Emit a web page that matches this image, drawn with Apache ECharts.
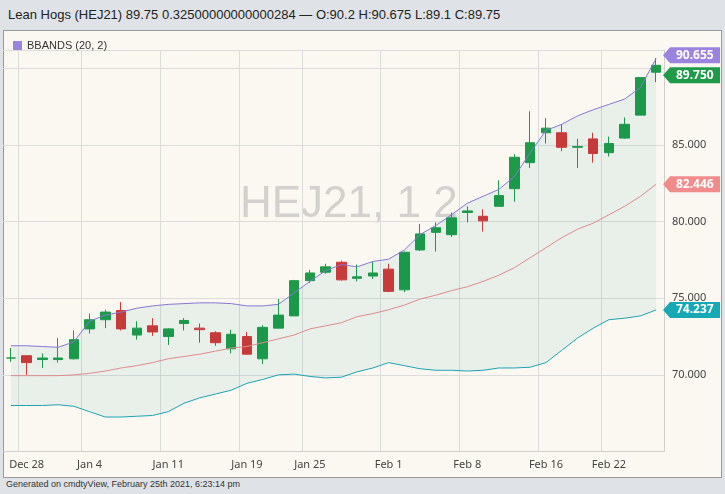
<!DOCTYPE html>
<html>
<head>
<meta charset="utf-8">
<script src="https://cdn.jsdelivr.net/npm/echarts@6/dist/echarts.min.js"></script>
<style>
  body { margin: 0; background: #dfe2e6; font-family: "Liberation Sans", Arial, sans-serif; }
  .title { position: absolute; left: 8px; top: 7px; font-size: 13px; color: #222; }
  .panel { position: absolute; left: 3px; top: 30px; width: 717px; height: 446px; border: 1px solid #9a9a9a; background: #fbf8f2; }
  .foot { position: absolute; left: 6px; top: 479px; font-size: 9px; color: #333; }
  #chart { position: absolute; left: 0; top: 0; width: 725px; height: 494px; }
</style>
</head>
<body>
<div class="title">Lean Hogs (HEJ21) 89.75 0.32500000000000284 — O:90.2 H:90.675 L:89.1 C:89.75</div>
<div class="panel"></div>
<div class="foot">Generated on cmdtyView, February 25th 2021, 6:23:14 pm</div>
<div id="chart"></div>
<script>
// 日期
var dates = ['Dec 24', 'Dec 28', 'Dec 29', 'Dec 30', 'Dec 31',
  'Jan 4', 'Jan 5', 'Jan 6', 'Jan 7', 'Jan 8',
  'Jan 11', 'Jan 12', 'Jan 13', 'Jan 14', 'Jan 15',
  'Jan 19', 'Jan 20', 'Jan 21', 'Jan 22',
  'Jan 25', 'Jan 26', 'Jan 27', 'Jan 28', 'Jan 29',
  'Feb 1', 'Feb 2', 'Feb 3', 'Feb 4', 'Feb 5',
  'Feb 8', 'Feb 9', 'Feb 10', 'Feb 11', 'Feb 12',
  'Feb 16', 'Feb 17', 'Feb 18', 'Feb 19',
  'Feb 22', 'Feb 23', 'Feb 24', 'Feb 25'];
var tickDates = ['Dec 28', 'Jan 4', 'Jan 11', 'Jan 19', 'Jan 25', 'Feb 1', 'Feb 8', 'Feb 16', 'Feb 22'];
// [open, close, low, high]
var ohlc = [
  [71.1, 71.1, 70.85, 71.75], [71.25, 70.8, 70.0, 71.25], [71.0, 71.1, 70.45, 71.4], [71.0, 71.1, 70.8, 72.4], [71.05, 72.3, 71.0, 72.9],
  [73.0, 73.6, 72.7, 74.0], [73.6, 74.1, 73.05, 74.25], [74.2, 73.0, 72.9, 74.75], [72.6, 73.05, 72.3, 73.5], [73.2, 72.8, 72.55, 73.7],
  [72.5, 73.0, 71.95, 73.05], [73.35, 73.55, 72.9, 73.7], [73.05, 72.95, 72.1, 73.35], [72.75, 72.1, 71.9, 72.85], [71.7, 72.65, 71.4, 72.95],
  [72.5, 71.35, 71.35, 72.8], [71.05, 73.1, 70.7, 73.25], [73.05, 73.9, 73.05, 74.95], [73.85, 76.15, 73.85, 76.2],
  [76.15, 76.65, 76.0, 76.85], [76.7, 77.05, 76.6, 77.25], [77.35, 76.2, 76.15, 77.45], [76.3, 76.4, 76.1, 77.2], [76.45, 76.65, 76.25, 77.4],
  [76.9, 75.45, 75.4, 77.25], [75.55, 78.0, 75.4, 78.05], [78.15, 79.2, 78.1, 79.85], [79.3, 79.6, 78.05, 79.95], [79.15, 80.25, 79.0, 80.6],
  [80.6, 80.7, 79.95, 81.0], [80.35, 80.05, 79.35, 80.8], [81.0, 81.7, 81.0, 82.7], [82.15, 84.2, 81.3, 84.4], [83.85, 85.15, 83.5, 87.2],
  [85.8, 86.1, 85.1, 86.75], [85.8, 84.85, 84.6, 86.35], [84.85, 84.9, 83.5, 85.4], [85.4, 84.45, 83.85, 85.8],
  [84.5, 85.1, 84.25, 85.55], [85.45, 86.35, 85.4, 86.8], [86.95, 89.4, 86.95, 89.4], [90.2, 89.75, 89.1, 90.675]
];
var upper = [71.9, 71.9, 71.85, 71.8, 72.15, 73.5, 73.9, 74.1, 74.35, 74.5,
  74.6, 74.65, 74.7, 74.7, 74.65, 74.5, 74.5, 74.6, 75.35, 76.1, 76.8, 77.2, 77.05, 77.4,
  77.55, 78.15, 79.15, 79.75, 80.45, 81.2, 81.65, 82.1, 82.95, 84.5, 85.95, 86.35, 86.9, 87.3,
  87.65, 88.0, 88.75, 90.655];
var middle = [69.95, 69.95, 69.95, 69.95, 70.0, 70.1, 70.25, 70.45, 70.6, 70.8,
  71.05, 71.2, 71.35, 71.55, 71.75, 71.85, 72.1, 72.35, 72.6, 73.0, 73.2, 73.4, 73.8, 74.0,
  74.25, 74.55, 74.95, 75.2, 75.5, 75.75, 76.1, 76.5, 77.0, 77.65, 78.3, 78.95, 79.5, 79.9,
  80.45, 81.0, 81.65, 82.446];
var lower = [68.0, 68.0, 68.0, 68.05, 67.95, 67.6, 67.25, 67.25, 67.3, 67.35,
  67.6, 68.15, 68.5, 68.75, 69.0, 69.45, 69.7, 70.0, 70.05, 69.9, 69.8, 69.85, 70.2, 70.45,
  70.8, 70.6, 70.4, 70.3, 70.3, 70.25, 70.3, 70.45, 70.45, 70.5, 70.8, 71.6, 72.4, 73.05,
  73.6, 73.7, 73.85, 74.237];
var lastClose = 89.75;

(function () {
  var myChart = echarts.init(document.getElementById('chart'));
  var bandWidth = upper.map(function (v, i) { return +(v - lower[i]).toFixed(3); });
  var isTick = function (i) { return tickDates.indexOf(dates[i]) >= 0; };
  var green = '#1e9a48';
  // 最后一根按昨收比较显示为绿色
  var candles = ohlc.map(function (d, i) {
    if (i === ohlc.length - 1) {
      return { value: d, itemStyle: { color0: green, borderColor0: green } };
    }
    return d;
  });

  var option = {
    animation: false,
    legend: {
      left: 8, top: 35, itemWidth: 9, itemHeight: 9,
      data: [{ name: 'BBANDS (20, 2)', icon: 'rect', itemStyle: { color: '#9a84e0' } }],
      textStyle: { fontSize: 11, color: '#333', fontFamily: 'Liberation Sans' }
    },
    grid: { left: 3, right: 61, top: 50, bottom: 42.5 },
    xAxis: {
      type: 'category', data: dates,
      axisLine: { lineStyle: { color: '#cfcfcf' } },
      axisTick: { show: false },
      axisLabel: { interval: function (i) { return isTick(i); }, color: '#444', fontSize: 11, margin: 8, fontFamily: 'Noto Sans' },
      splitLine: { show: true, interval: function (i) { return isTick(i); }, lineStyle: { color: '#dcdcdc' } }
    },
    yAxis: {
      type: 'value', position: 'right', min: 65, max: 91.2, interval: 5,
      axisLine: { show: true, lineStyle: { color: '#cfcfcf' } },
      axisTick: { show: false },
      axisLabel: {
        color: '#444', fontSize: 11, fontFamily: 'Noto Sans',
        formatter: function (v) { return (v === 65 || v === 90) ? '' : v.toFixed(3); },
        showMaxLabel: false
      },
      splitLine: { lineStyle: { color: '#dcdcdc' } }
    },
    series: [
      {
        name: 'bandBase', type: 'line', stack: 'bb', data: lower,
        symbol: 'none', lineStyle: { opacity: 0 }, silent: true
      },
      {
        name: 'bandFill', type: 'line', stack: 'bb', data: bandWidth,
        symbol: 'none', lineStyle: { opacity: 0 }, silent: true,
        areaStyle: { color: 'rgba(0,140,130,0.10)' }
      },
      { name: 'BBANDS (20, 2)', type: 'line', data: upper, symbol: 'none', lineStyle: { color: '#8677d6', width: 1 } },
      { name: 'mid', type: 'line', data: middle, symbol: 'none', lineStyle: { color: '#e08a8a', width: 1 } },
      { name: 'low', type: 'line', data: lower, symbol: 'none', lineStyle: { color: '#1aa3b4', width: 1 } },
      {
        name: 'HEJ21', type: 'candlestick', data: candles, barWidth: 10,
        itemStyle: { color: green, color0: '#d63535', borderColor: green, borderColor0: '#d63535' }
      }
    ]
  };
  myChart.setOption(option);

  // 右侧价格标签
  var n = dates.length - 1;
  var badges = [
    [upper[n], '#9a84e0'], [lastClose, green], [middle[n], '#f08c8c'], [lower[n], '#17a8b5']
  ];
  var elems = [{
    type: 'text', left: 240, top: 183, z: -1,
    style: { text: 'HEJ21, 1 2', fontSize: 44, fill: 'rgba(150,150,150,0.4)', fontFamily: 'Liberation Sans' }
  }];
  badges.forEach(function (b) {
    var y = myChart.convertToPixel({ yAxisIndex: 0 }, b[0]);
    if (b[0] === upper[n]) y -= 3;
    if (b[0] === lastClose) y += 3;
    elems.push({
      type: 'polygon', z: 10,
      shape: { points: [[663, y], [670, y - 8], [720, y - 8], [720, y + 8], [670, y + 8]] },
      style: { fill: b[1] }
    });
    elems.push({
      type: 'text', z: 11, x: 676, y: y - 6,
      style: { text: b[0].toFixed(3), fill: '#fff', fontSize: 12, fontWeight: 'bold', fontFamily: 'Noto Sans' }
    });
  });
  myChart.setOption({ graphic: elems });
  window.addEventListener('resize', () => myChart.resize());
})();
</script>
</body>
</html>
